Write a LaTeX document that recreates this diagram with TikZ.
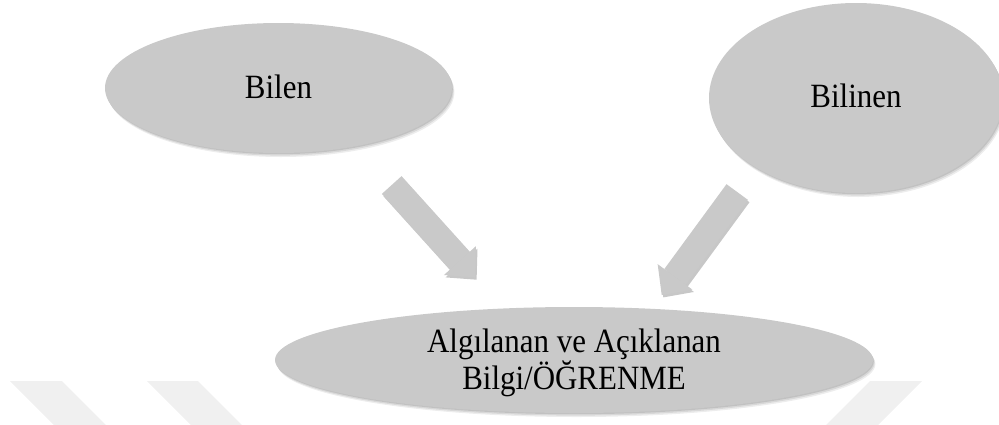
\documentclass[tikz,border=0pt]{standalone}
\usepackage{fontspec}
\setmainfont{Liberation Serif}[FakeStretch=0.91]
\usetikzlibrary{shapes.geometric,arrows.meta,shadows}
\definecolor{blobgray}{RGB}{201,201,201}
\definecolor{wmgray}{RGB}{240,240,240}
\tikzset{
  blob/.style={ellipse, fill=blobgray, inner sep=0pt, align=center,
    font=\fontsize{34}{29}\selectfont,
    drop shadow={shadow xshift=0.8pt, shadow yshift=-1.2pt, opacity=0.10, fill=black},
    drop shadow={shadow xshift=1.6pt, shadow yshift=-2.6pt, opacity=0.09, fill=black},
    drop shadow={shadow xshift=2.4pt, shadow yshift=-4pt, opacity=0.07, fill=black}},
  fatarrowstyle/.style={line width=26.5pt, draw=blobgray, line cap=butt,
    -{Triangle[width=43pt,length=22.5pt,line width=0pt]}},
  wmband/.style={fill=wmgray, draw=none}
}
\newcommand\myfatarrow[2]{%
  \begin{scope}[transparency group, opacity=0.22]
    \draw[fatarrowstyle, draw=black, transform canvas={shift={(1.6pt,-2.4pt)}}] (#1) -- (#2);
  \end{scope}
  \draw[fatarrowstyle] (#1) -- (#2);}
\begin{document}
\begin{tikzpicture}[x=1pt,y=-1pt]
\useasboundingbox (0,0) rectangle (999,424);
% faint watermark bands
\fill[wmband] (10,381) -- (62,381) -- (111,430) -- (59,430) -- cycle;
\fill[wmband] (147,381) -- (198,381) -- (247,430) -- (196,430) -- cycle;
\fill[wmband] (870,381) -- (922,381) -- (873,430) -- (821,430) -- cycle;
% ellipses
\node[blob, minimum width=347pt, minimum height=130pt, text height=23.2pt, text depth=3.2pt]
  (bilen) at (278.5,88) {Bilen};
\node[blob, minimum width=294pt, minimum height=190pt, text height=23.2pt, text depth=5.2pt]
  (bilinen) at (856,98) {Bilinen};
\node[blob, minimum width=598pt, minimum height=106pt, text depth=2.2pt] (ogrenme) at (574,360)
  {Algılanan ve Açıklanan\\Bilgi/ÖĞRENME};
% block arrows
\coordinate (la1) at (391.7,185);
\coordinate (la2) at (475,277.3);
\coordinate (ra1) at (737.2,192);
\coordinate (ra2) at (661.7,295);
\myfatarrow{la1}{la2}
\myfatarrow{ra1}{ra2}
\end{tikzpicture}
\end{document}
